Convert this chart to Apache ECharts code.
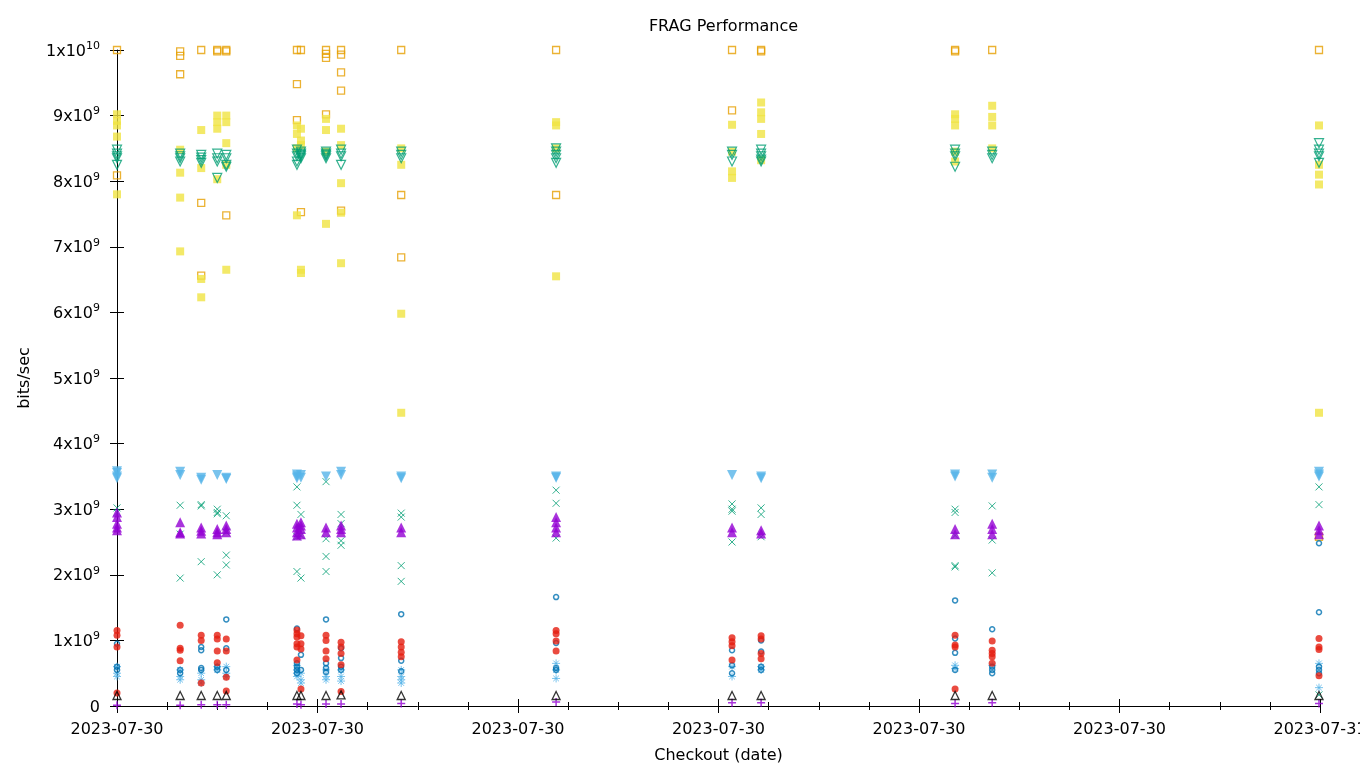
<!DOCTYPE html>
<html>
<head>
<meta charset="utf-8">
<script src="https://cdn.jsdelivr.net/npm/echarts@6/dist/echarts.min.js"></script>
<style>
html,body{margin:0;padding:0;background:#fff;}
#chart{width:1360px;height:768px;}
</style>
</head>
<body>
<div id="chart"></div>
<script>
// Checkout times (hours after 2023-07-30 00:00) of the measured columns
const checkoutHours = [0, 1.26, 1.68, 2.0, 2.18, 3.59, 3.67, 4.17, 4.47, 5.67, 8.76, 12.27, 12.85, 16.72, 17.46, 23.98];
// x tick labels
const xTickLabels = ['2023-07-30','2023-07-30','2023-07-30','2023-07-30','2023-07-30','2023-07-30','2023-07-31'];
// values in units of 1e9 bits/sec, one list per checkout column
const UNIT = 1e9;
const purplePlus = [[0.01],[0.01],[0.02],[0.02],[0.02],[0.03],[0.02],[0.03],[0.03],[0.04],[0.06],[0.05],[0.05],[0.04],[0.05],[0.04]];
const greenCross = [
  [3.02, 2.95],[3.06, 2.62, 1.95],[3.07, 3.05, 2.2],[3.0, 2.95, 2.93, 2.0],[2.9, 2.65, 2.3, 2.15],
  [3.34, 3.06, 2.58, 2.05],[2.92, 2.6, 1.95],[3.42, 2.55, 2.28, 2.05],[2.92, 2.78, 2.52, 2.45],
  [2.94, 2.88, 2.14, 1.9],[3.29, 3.09, 2.56],[3.08, 3.0, 2.97, 2.5],[3.02, 2.92, 2.58],
  [3.0, 2.95, 2.6, 2.14, 2.12],[3.05, 2.53, 2.03],[3.34, 3.07, 0.17]
];
const lightBlueStar = [
  [0.6, 0.5, 0.45],[0.55, 0.45, 0.4],[0.5, 0.4, 0.35],[0.6, 0.55],[0.6, 0.5, 0.45],
  [0.62, 0.55, 0.5, 0.45],[0.5, 0.4, 0.35],[0.55, 0.45, 0.4],[0.55, 0.45, 0.38],
  [0.55, 0.45, 0.4, 0.35],[0.65, 0.55, 0.42],[0.6, 0.45],[0.6, 0.55],[0.62, 0.57],[0.62],[0.65, 0.28]
];
const orangeSquare = [
  [10.0, 8.09],[9.98, 9.91, 9.63],[10.0, 7.67, 6.56],[10.0, 9.98],[10.0, 9.98, 7.48],
  [10.0, 9.48, 8.93],[10.0, 7.53],[10.0, 9.94, 9.88, 9.02],[10.0, 9.93, 9.66, 9.38, 7.55],
  [10.0, 7.79, 6.84],[10.0, 7.79],[10.0, 9.08],[10.0, 9.98],[10.0, 9.98],[10.0],[10.0, 2.58]
];
const yellowSquare = [
  [9.02, 8.92, 8.85, 8.68, 7.8],[8.48, 8.13, 7.75, 6.93],[8.78, 8.2, 6.51, 6.23],[9.0, 8.9, 8.8, 8.03],
  [9.0, 8.9, 8.58, 8.25, 6.65],[8.85, 8.72, 8.5, 7.48],[8.8, 8.62, 8.55, 6.65, 6.6],[8.95, 8.78, 8.45, 7.35],
  [8.8, 8.55, 7.97, 7.52, 6.75],[8.5, 8.25, 5.98, 4.47],[8.9, 8.85, 8.5, 6.55],[8.86, 8.45, 8.15, 8.05],
  [9.2, 9.05, 8.95, 8.72, 8.32],[9.02, 8.95, 8.85, 8.45, 8.3],[9.15, 8.98, 8.85, 8.5],[8.85, 8.25, 8.1, 7.95, 4.47]
];
const blueCircle = [
  [0.95, 0.6, 0.55],[0.55, 0.5],[0.9, 0.85, 0.58, 0.55],[0.6, 0.55],[1.32, 0.88, 0.55],
  [1.18, 0.65, 0.6, 0.55, 0.5],[0.78, 0.55],[1.32, 0.65, 0.58, 0.52],[0.88, 0.73, 0.6, 0.55],
  [1.4, 0.69, 0.53],[1.66, 0.96, 0.58, 0.55],[0.85, 0.62, 0.5],[1.0, 0.83, 0.6, 0.55],
  [1.61, 1.03, 0.81, 0.55],[1.17, 0.6, 0.55, 0.5],[2.48, 1.43, 0.6, 0.55, 0.5]
];
const redDot = [
  [1.15, 1.08, 0.9, 0.2],[1.23, 0.88, 0.85, 0.69],[1.08, 1.0, 0.35],[1.08, 1.02, 0.84, 0.66],
  [1.02, 0.84, 0.44, 0.23],[1.16, 1.1, 1.05, 0.95, 0.9, 0.7],[1.07, 0.95, 0.87, 0.26],[1.08, 1.0, 0.84, 0.72],
  [0.97, 0.9, 0.8, 0.63, 0.22],[0.98, 0.9, 0.82, 0.75],[1.15, 1.1, 0.99, 0.84],[1.04, 0.98, 0.92, 0.7],
  [1.07, 1.02, 0.8, 0.72],[1.08, 0.93, 0.9, 0.26],[0.99, 0.85, 0.8, 0.75, 0.65],[1.03, 0.9, 0.86, 0.46]
];
const blackTriUp = [[0.16],[0.16],[0.16],[0.16],[0.16],[0.16],[0.16],[0.16],[0.17],[0.16],[0.16],[0.16],[0.16],[0.16],[0.16],[0.16]];
const purpleTriUp = [
  [2.95, 2.88, 2.78, 2.72, 2.68],[2.8, 2.65, 2.63],[2.72, 2.67, 2.63],[2.7, 2.65, 2.62],[2.75, 2.7, 2.65],
  [2.78, 2.72, 2.65, 2.6],[2.8, 2.75, 2.7, 2.62],[2.72, 2.65],[2.75, 2.7, 2.65],[2.72, 2.65],
  [2.88, 2.8, 2.72, 2.65],[2.72, 2.65],[2.68, 2.63],[2.7, 2.62],[2.78, 2.7, 2.62],[2.75, 2.68, 2.62]
];
const greenTriDown = [
  [8.48, 8.42, 8.38, 8.35, 8.25],[8.42, 8.38, 8.35, 8.3],[8.4, 8.36, 8.32, 8.28],[8.42, 8.35, 8.3, 8.05],
  [8.4, 8.35, 8.25, 8.22],[8.48, 8.42, 8.38, 8.3, 8.25],[8.45, 8.42, 8.4, 8.38, 8.35],[8.45, 8.42, 8.4, 8.38, 8.35],
  [8.48, 8.42, 8.38, 8.25],[8.45, 8.4, 8.35],[8.5, 8.45, 8.4, 8.35, 8.28],[8.45, 8.4, 8.3],
  [8.48, 8.42, 8.38, 8.33, 8.3],[8.48, 8.42, 8.38, 8.22],[8.45, 8.4, 8.35],[8.58, 8.48, 8.42, 8.38, 8.28]
];
const lightBlueTriDown = [
  [3.58, 3.55, 3.5, 3.47],[3.57, 3.52],[3.48, 3.45],[3.52],[3.48, 3.46],[3.53, 3.5, 3.47],[3.52, 3.48],[3.5],
  [3.57, 3.52],[3.5, 3.47],[3.5, 3.48],[3.52],[3.5, 3.47],[3.53, 3.5],[3.53, 3.48],[3.57, 3.53, 3.5]
];

function pts(cols) {
  const out = [];
  cols.forEach((vals, i) => vals.forEach(v => out.push([checkoutHours[i], v * UNIT])));
  return out;
}

const PLUS = 'path://M5,0L5,10M0,5L10,5';
const CROSS = 'path://M0,0L10,10M10,0L0,10';
const STAR = 'path://M5,0L5,10M0,5L10,5M1.5,1.5L8.5,8.5M8.5,1.5L1.5,8.5';

function ser(name, cols, color, symbol, size, filled, rotate, bw) {
  return {
    name, type: 'scatter', data: pts(cols), symbol, symbolSize: size, symbolRotate: rotate || 0,
    itemStyle: filled ? { color: color, borderWidth: 0 }
                      : { color: 'rgba(0,0,0,0)', borderColor: color, borderWidth: bw || 1.2 },
    emphasis: { disabled: true }, silent: true
  };
}

const series = [
  ser('s1', purplePlus, '#9400d3', PLUS, 8, false, 0, 1.5),
  ser('s2', greenCross, '#009e73', CROSS, 7, false, 0, 1),
  ser('s3', lightBlueStar, '#56b4e9', STAR, 8, false, 0, 1),
  ser('s4', orangeSquare, '#e69f00', 'rect', 7, false, 0, 1.3),
  ser('s5', yellowSquare, '#f0e442', 'rect', 8, true),
  ser('s6', blueCircle, '#0072b2', 'circle', 5, false, 0, 1.5),
  ser('s7', redDot, '#e51e10', 'circle', 7, true),
  ser('s8', blackTriUp, '#000000', 'triangle', 8, false, 0, 1.3),
  ser('s9', purpleTriUp, '#9400d3', 'triangle', 10, true),
  ser('s10', greenTriDown, '#009e73', 'triangle', 9, false, 180, 1.2),
  ser('s11', lightBlueTriDown, '#56b4e9', 'triangle', 10, true, 180)
];

const FONT = 'DejaVu Sans';

function yLabel(v) {
  if (v === 0) return '{b|0}';
  const ex = Math.floor(Math.log10(v) + 1e-9);
  const m = Math.round(v / Math.pow(10, ex));
  return '{b|' + m + 'x10}{s|' + ex + '}';
}

const option = {
  animation: false,
  backgroundColor: '#fff',
  title: {
    text: 'FRAG Performance', left: 718.5, top: 14, textAlign: 'center',
    textStyle: { fontFamily: FONT, fontSize: 16, fontWeight: 'normal', color: '#000' }
  },
  grid: { left: 117, right: 40, top: 50, bottom: 62, containLabel: false, outerBoundsMode: 'none' },
  xAxis: [{
    type: 'value', min: 0, max: 24, interval: 4, position: 'bottom',
    name: 'Checkout (date)', nameLocation: 'middle', nameGap: 42,
    nameTextStyle: { fontFamily: FONT, fontSize: 16, color: '#000' },
    axisLine: { show: true, onZero: false, lineStyle: { color: '#000', width: 1 } },
    axisTick: { show: true, inside: false, length: 7, lineStyle: { color: '#000' } },
    minorTick: { show: true, splitNumber: 4, length: 4, lineStyle: { color: '#000' } },
    splitLine: { show: false },
    axisLabel: { margin: 16, fontFamily: FONT, fontSize: 16, color: '#000', showMaxLabel: true, showMinLabel: true,
      hideOverlap: false,
      formatter: v => xTickLabels[Math.round(v / 4)] }
  }, {
    type: 'value', min: 0, max: 24, interval: 4, position: 'top',
    axisLine: { show: false },
    axisTick: { show: true, inside: false, length: 7, lineStyle: { color: '#000' } },
    minorTick: { show: true, splitNumber: 4, length: 4, lineStyle: { color: '#000' } },
    splitLine: { show: false }, axisLabel: { show: false }
  }],
  yAxis: [{
    type: 'value', min: 0, max: 1e10, interval: 1e9, position: 'left',
    name: 'bits/sec', nameLocation: 'middle', nameGap: 84, nameRotate: 90,
    nameTextStyle: { fontFamily: FONT, fontSize: 16, color: '#000' },
    axisLine: { show: true, onZero: false, lineStyle: { color: '#000', width: 1 } },
    axisTick: { show: true, inside: false, length: 7, lineStyle: { color: '#000' } },
    splitLine: { show: false },
    axisLabel: {
      margin: 17, color: '#000', fontFamily: FONT, formatter: yLabel,
      rich: {
        b: { fontFamily: FONT, fontSize: 16, color: '#000', lineHeight: 19, verticalAlign: 'bottom' },
        s: { fontFamily: FONT, fontSize: 11, color: '#000', lineHeight: 11, verticalAlign: 'top' }
      }
    }
  }, {
    type: 'value', min: 0, max: 1e10, interval: 1e9, position: 'right',
    axisLine: { show: false },
    axisTick: { show: true, inside: false, length: 7, lineStyle: { color: '#000' } },
    splitLine: { show: false }, axisLabel: { show: false }
  }],
  series: series
};

const chart = echarts.init(document.getElementById('chart'), null, { renderer: 'canvas' });
chart.setOption(option);
</script>
</body>
</html>
